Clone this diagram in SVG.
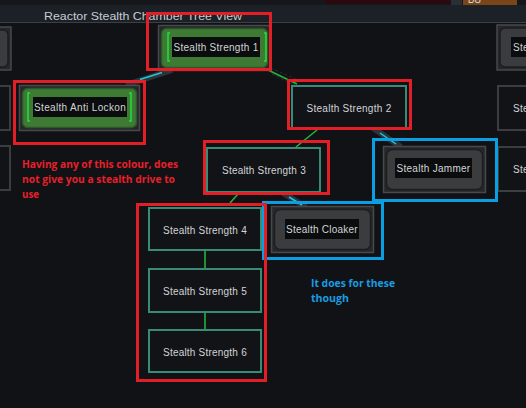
<svg xmlns="http://www.w3.org/2000/svg" width="526" height="408" viewBox="0 0 526 408">
<defs>
<style>
.lbl{font-family:"Liberation Sans",Arial,sans-serif;font-size:10px;fill:#d2d4d6;text-anchor:middle;letter-spacing:0.3px}
.frame{fill:#26272a;stroke:#46484b;stroke-width:1.5}
.green{fill:#3e7a34;stroke:#2c5726;stroke-width:1.5}
.gray{fill:#3b3c3e;stroke:#1c1d1f;stroke-width:1.5}
.lbox{fill:#0b0c0d}
.br{fill:none;stroke:#22e040;stroke-width:1.5}
.teal{fill:#121317;stroke:#3a8a78;stroke-width:2}
.dark{fill:#121317;stroke:#3c3d40;stroke-width:2}
.red{fill:none;stroke:#e41e26;stroke-width:3}
.blue{fill:none;stroke:#0a9fe3;stroke-width:3}
.gl{stroke:#1fb53a;stroke-width:1.6;fill:none}
.band{stroke:#2e333a;stroke-width:6;fill:none;stroke-linecap:butt}
.cy{stroke:#1ec8d8;stroke-width:1.5;fill:none}
.glow{stroke:#2a2f36;stroke-width:1;stroke-dasharray:3 2;fill:none}
.ann{font-family:"Open Sans","Liberation Sans",sans-serif;font-weight:700;font-size:11px}
</style>
</defs>
<rect width="526" height="408" fill="#111216"/>
<!-- top bar -->
<g id="topbar">
<rect x="0" y="0" width="526" height="5" fill="#15171b"/>
<rect x="325" y="0" width="125" height="4" fill="#2a0a0f"/>
<rect x="451" y="0" width="11" height="5" fill="#2a2f36"/>
<rect x="463" y="0" width="54" height="5" fill="#7a4518"/>
<text x="468" y="3" font-family="Liberation Sans,sans-serif" font-size="9" fill="#e0e0e0">DU</text>
<rect x="0" y="5" width="526" height="17" fill="#1c2027"/>
<line x1="0" y1="22.5" x2="526" y2="22.5" stroke="#3b4048" stroke-width="1"/>
<text x="44" y="20" font-family="Liberation Sans,Arial,sans-serif" font-size="11.5" fill="#c8ccd0" textLength="198" lengthAdjust="spacingAndGlyphs">Reactor Stealth Chamber Tree View</text>
</g>
<!-- edge partial nodes -->
<g id="edge-left">
<rect x="-10" y="27" width="21" height="43" class="frame"/>
<rect x="-8" y="30" width="16" height="37" rx="5" class="gray"/>
<rect x="-5" y="86" width="15" height="44" class="dark"/>
<rect x="-5" y="146" width="15" height="44" class="dark"/>
</g>
<g id="edge-right">
<rect x="497" y="25" width="40" height="45" class="frame"/>
<rect x="500" y="28" width="40" height="39" rx="5" class="gray"/>
<rect x="511" y="37" width="20" height="20" class="lbox"/>
<text x="513" y="51" class="lbl" style="text-anchor:start">Ste</text>
<rect x="498" y="86" width="40" height="44" class="dark"/>
<text x="513" y="112" class="lbl" style="text-anchor:start">Ste</text>
<rect x="498" y="147" width="40" height="44" class="dark"/>
<text x="513" y="173" class="lbl" style="text-anchor:start">Ste</text>
</g>
<!-- connectors -->
<g id="connectors">
<line x1="126" y1="85" x2="172" y2="70" class="band"/>
<line x1="140" y1="79.5" x2="162" y2="72.5" class="cy"/>
<line x1="373" y1="128" x2="401" y2="147" class="band"/>
<line x1="380" y1="133" x2="396" y2="144" class="cy"/>
<line x1="283" y1="193" x2="306" y2="207" class="band"/>
<line x1="289" y1="197" x2="302" y2="205" class="cy"/>
<line x1="266" y1="66" x2="300" y2="81" class="glow"/>
<line x1="272" y1="74" x2="296" y2="86" class="glow"/>
<line x1="268" y1="70" x2="297" y2="84" class="gl"/>
<line x1="317" y1="130" x2="296" y2="147" class="gl"/>
<line x1="238" y1="194" x2="230" y2="203" class="gl"/>
<line x1="205" y1="251" x2="205" y2="268" class="gl"/>
<line x1="205" y1="313" x2="205" y2="329" class="gl"/>
</g>
<!-- nodes -->
<g id="n-ss1">
<rect x="158.5" y="25.5" width="112" height="45" class="frame"/>
<rect x="161.5" y="28.5" width="106" height="39" rx="5" class="green"/>
<rect x="172" y="37" width="88" height="20" class="lbox"/>
<path d="M170 33h-2v28h2M264 33h2v28h-2" class="br"/>
<text x="216" y="51" class="lbl" textLength="85">Stealth Strength 1</text>
</g>
<g id="n-antilockon">
<rect x="19.5" y="85.5" width="120" height="45" class="frame"/>
<rect x="22.5" y="88.5" width="114" height="39" rx="5" class="green"/>
<rect x="33" y="97" width="94" height="20" class="lbox"/>
<path d="M30 93h-2v28h2M129 93h2v28h-2" class="br"/>
<text x="80" y="111" class="lbl" textLength="92">Stealth Anti Lockon</text>
</g>
<g id="n-ss2">
<rect x="292" y="86" width="114" height="42" class="teal"/>
<text x="349" y="112" class="lbl" textLength="85">Stealth Strength 2</text>
</g>
<g id="n-ss3">
<rect x="207" y="148" width="113" height="44" class="teal"/>
<text x="264" y="174" class="lbl" textLength="84">Stealth Strength 3</text>
</g>
<g id="n-jammer">
<rect x="383.5" y="146.5" width="102" height="46" class="frame"/>
<rect x="386.5" y="149.5" width="96" height="40" rx="6" class="gray"/>
<rect x="395" y="158" width="77" height="20" class="lbox"/>
<text x="433.5" y="172" class="lbl" textLength="74">Stealth Jammer</text>
</g>
<g id="n-ss4">
<rect x="149" y="208" width="112" height="42" class="teal"/>
<text x="205" y="234" class="lbl" textLength="84">Stealth Strength 4</text>
</g>
<g id="n-cloaker">
<rect x="271.5" y="206.5" width="102" height="46" class="frame"/>
<rect x="274.5" y="209.5" width="96" height="40" rx="6" class="gray"/>
<rect x="285" y="219" width="74" height="20" class="lbox"/>
<text x="322" y="233" class="lbl" textLength="72">Stealth Cloaker</text>
</g>
<g id="n-ss5">
<rect x="149" y="269" width="112" height="43" class="teal"/>
<text x="205" y="295" class="lbl" textLength="84">Stealth Strength 5</text>
</g>
<g id="n-ss6">
<rect x="149" y="330" width="112" height="42" class="teal"/>
<text x="205" y="356" class="lbl" textLength="84">Stealth Strength 6</text>
</g>
<!-- highlight boxes -->
<g id="highlights">
<rect x="263.5" y="202.5" width="119" height="56" class="blue"/>
<rect x="373.5" y="139.5" width="123" height="61" class="blue"/>
<rect x="147.5" y="13.5" width="123" height="56" class="red"/>
<rect x="14.5" y="81.5" width="130" height="62" class="red"/>
<rect x="288.5" y="80.5" width="122" height="48" class="red"/>
<rect x="204.5" y="141.5" width="124" height="52" class="red"/>
<rect x="137.5" y="204.5" width="128" height="176" class="red"/>
</g>
<g id="annotations">
<text class="ann" fill="#e8202a"><tspan x="22" y="168" textLength="156" lengthAdjust="spacingAndGlyphs">Having any of this colour, does</tspan><tspan x="22" y="183" textLength="153" lengthAdjust="spacingAndGlyphs">not give you a stealth drive to</tspan><tspan x="22" y="198" textLength="17" lengthAdjust="spacingAndGlyphs">use</tspan></text>
<text class="ann" fill="#1a9ce0"><tspan x="311" y="287" textLength="84" lengthAdjust="spacingAndGlyphs">It does for these</tspan><tspan x="311" y="302" textLength="38" lengthAdjust="spacingAndGlyphs">though</tspan></text>
</g>
</svg>
